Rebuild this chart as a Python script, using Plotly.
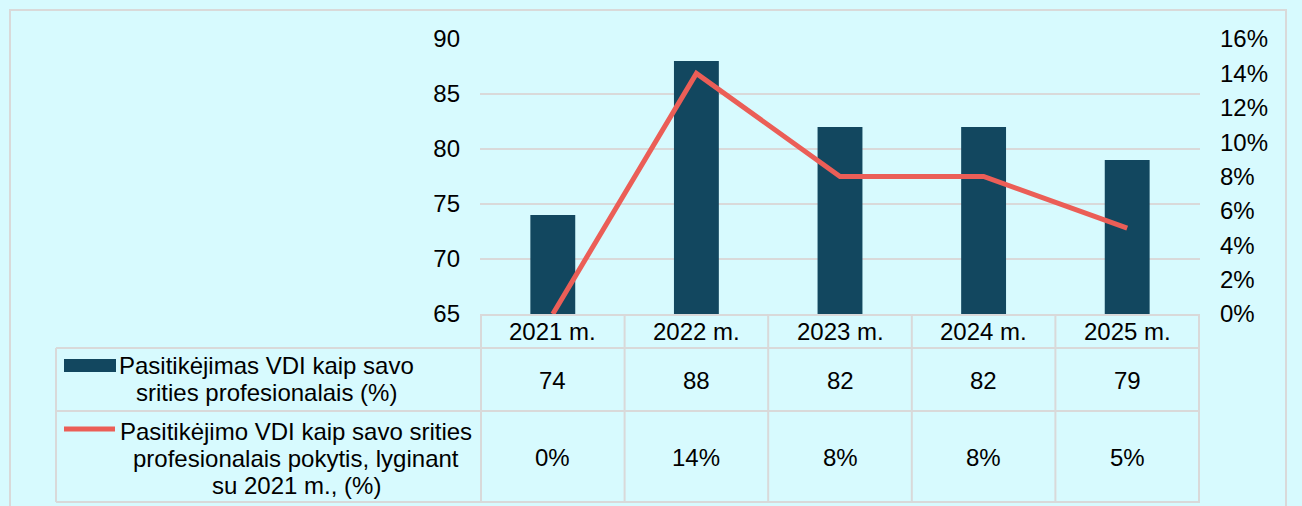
import plotly.graph_objects as go

years = ['2021 m.', '2022 m.', '2023 m.', '2024 m.', '2025 m.']
trust = [74, 88, 82, 82, 79]
change = [0.00, 0.14, 0.08, 0.08, 0.05]

trust_label = ['Pasitikėjimas VDI kaip savo', 'srities profesionalais (%)']
change_label = ['Pasitikėjimo VDI kaip savo srities',
                'profesionalais pokytis, lyginant',
                'su 2021 m., (%)']

BG = '#D7FAFE'
BAR = '#12475F'
LINE = '#EB5E57'
GRID = '#D9D9D9'
FONT = dict(family='Liberation Sans, Arial, sans-serif', size=24, color='#000000')

# plot area in pixels: x 480..1200, y 39..314
L, R, T, B = 480, 1200, 39, 314


def px_x(p):
    return (p - L) / (R - L)


def px_y(p):
    return (B - p) / (B - T)


fig = go.Figure()

fig.add_trace(go.Bar(x=years, y=trust, marker=dict(color=BAR, line=dict(width=0)),
                     name=' '.join(trust_label), showlegend=False))
fig.add_trace(go.Scatter(x=years, y=change, yaxis='y2', mode='lines',
                         line=dict(color=LINE, width=5), name=' '.join(change_label),
                         showlegend=False, cliponaxis=False))

shapes = []
# outer frame
shapes.append(dict(type='rect', xref='paper', yref='paper',
                   x0=px_x(10), x1=px_x(1286), y0=px_y(530), y1=px_y(10),
                   line=dict(color=GRID, width=2), layer='below'))
# table horizontal lines
for py in [348, 411, 502]:
    shapes.append(dict(type='line', xref='paper', yref='paper',
                       x0=px_x(56), x1=1, y0=px_y(py), y1=px_y(py),
                       line=dict(color=GRID, width=2)))
# table vertical lines (between categories)
for i in range(len(years) + 1):
    shapes.append(dict(type='line', xref='x', yref='paper',
                       x0=i - 0.5, x1=i - 0.5, y0=0, y1=px_y(502),
                       line=dict(color=GRID, width=2)))
shapes.append(dict(type='line', xref='paper', yref='paper',
                   x0=px_x(56), x1=px_x(56), y0=px_y(348), y1=px_y(502),
                   line=dict(color=GRID, width=2)))
# legend keys
shapes.append(dict(type='rect', xref='paper', yref='paper',
                   x0=px_x(64), x1=px_x(116), y0=px_y(372), y1=px_y(359),
                   fillcolor=BAR, line=dict(width=0)))
shapes.append(dict(type='line', xref='paper', yref='paper',
                   x0=px_x(64), x1=px_x(115), y0=px_y(429), y1=px_y(429),
                   line=dict(color=LINE, width=5)))

annotations = []
for i, txt in enumerate(trust_label):
    annotations.append(dict(text=txt, xref='paper', yref='paper',
                            x=px_x(266), y=px_y(366 + 26 * i),
                            xanchor='center', yanchor='middle', showarrow=False, font=FONT))
for i, txt in enumerate(change_label):
    annotations.append(dict(text=txt, xref='paper', yref='paper',
                            x=px_x(296), y=px_y(431 + 27 * i),
                            xanchor='center', yanchor='middle', showarrow=False, font=FONT))
# table header and value rows
for yr in years:
    annotations.append(dict(text=yr, xref='x', yref='paper', x=yr, y=px_y(331),
                            xanchor='center', yanchor='middle', showarrow=False, font=FONT))
for yr, v in zip(years, trust):
    annotations.append(dict(text=str(v), xref='x', yref='paper', x=yr, y=px_y(380),
                            xanchor='center', yanchor='middle', showarrow=False, font=FONT))
for yr, v in zip(years, change):
    annotations.append(dict(text=f'{v:.0%}', xref='x', yref='paper', x=yr, y=px_y(457),
                            xanchor='center', yanchor='middle', showarrow=False, font=FONT))

fig.update_layout(
    width=1302, height=506, autosize=False,
    margin=dict(l=L, r=1302 - R, t=T, b=506 - B),
    paper_bgcolor=BG, plot_bgcolor=BG,
    font=FONT,
    bargap=0.6875,
    shapes=shapes,
    annotations=annotations,
    xaxis=dict(showgrid=False, showline=True, linecolor=GRID, linewidth=2,
               ticks='', showticklabels=False, zeroline=False),
    yaxis=dict(range=[65, 90], dtick=5, showgrid=True, gridcolor=GRID, gridwidth=2,
               zeroline=False, showline=False, ticks='', ticklabelstandoff=19,
               tickfont=FONT),
    yaxis2=dict(range=[0, 0.16], dtick=0.02, tickformat='.0%', overlaying='y',
                side='right', showgrid=False, zeroline=False, showline=False,
                ticks='', ticklabelstandoff=19, tickfont=FONT),
)

fig.write_html('out.html', config={'displayModeBar': False},
               post_script="document.body.style.margin='0';"
                           "document.body.style.background='%s';" % BG)
